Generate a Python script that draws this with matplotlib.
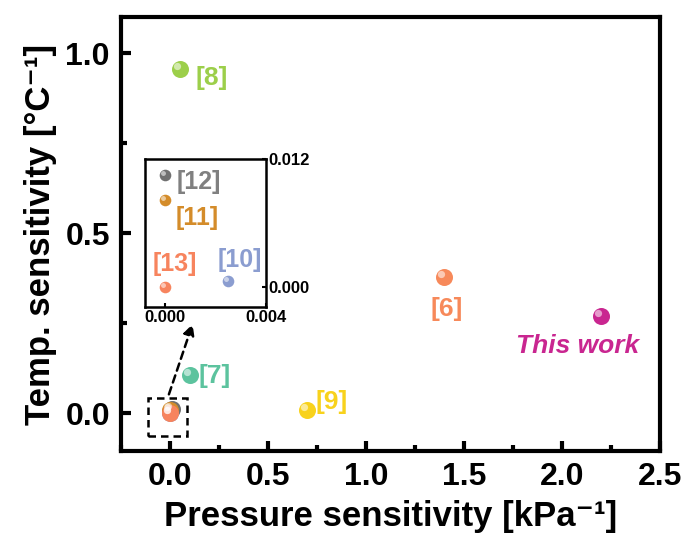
import numpy as np
import matplotlib.pyplot as plt
import matplotlib.transforms as mt
from matplotlib.patches import Rectangle
from matplotlib.ticker import MultipleLocator

plt.rcParams['font.family'] = ['Liberation Sans', 'DejaVu Sans']
plt.rcParams['font.weight'] = 'bold'

# main chart data
refs = ['[8]', '[7]', '[9]', '[6]', 'This work']
press = [0.05, 0.10, 0.70, 1.40, 2.20]
temp = [0.955, 0.105, 0.01, 0.378, 0.27]
colors = ['#9ccf4a', '#5cc39e', '#f8d21c', '#f7895a', '#c92690']
label_xy = [(0.13, 0.93), (0.145, 0.103), (0.745, 0.03), (1.41, 0.29), (2.08, 0.186)]
label_ha = ['left', 'left', 'left', 'center', 'center']

# inset data (near zero)
in_refs = ['[12]', '[11]', '[13]', '[10]']
in_press = [0.0, 0.0, 0.0, 0.0025]
in_temp = [0.0105, 0.0081, 0.0, 0.0005]
in_colors = ['#707070', '#d48c2a', '#f7845e', '#8b9dd0']
in_label_colors = ['#808080', '#d48c2a', '#f7845e', '#8b9dd0']
in_label_xy = [(0.00045, 0.0098), (0.0004, 0.0065), (-0.0005, 0.0021), (0.0021, 0.0025)]


def sphere(ax, x, y, c, s, z=3):
    ax.scatter(x, y, s=s, color=c, zorder=z, linewidths=0)
    # highlight
    off = np.sqrt(s) * 0.18
    hl = ax.scatter(x, y, s=s * 0.18, color='white', alpha=0.55, zorder=z + 0.1, linewidths=0)
    hl.set_offset_transform(ax.transData + mt.ScaledTranslation(-off / 72, off / 72, ax.figure.dpi_scale_trans))


fig = plt.figure(figsize=(6.89, 5.5), dpi=100)
ax = fig.add_axes([0.1756, 0.18, 0.782, 0.789])

# near-zero points at main scale
for i in [0, 3, 1, 2]:
    sphere(ax, in_press[i] + (0.008 if i == 0 else 0), in_temp[i], in_colors[i], 150)
for i in range(len(refs)):
    sphere(ax, press[i], temp[i], colors[i], 150)
    ax.text(label_xy[i][0], label_xy[i][1], refs[i], color=colors[i], fontsize=19,
            ha=label_ha[i], va='center', fontweight='bold',
            style='italic' if refs[i] == 'This work' else 'normal')

ax.set_xlim(-0.25, 2.5)
ax.set_ylim(-0.105, 1.1)
ax.xaxis.set_major_locator(MultipleLocator(0.5))
ax.xaxis.set_minor_locator(MultipleLocator(0.25))
ax.yaxis.set_major_locator(MultipleLocator(0.5))
ax.yaxis.set_minor_locator(MultipleLocator(0.25))
ax.tick_params(which='major', direction='in', length=7, width=3, labelsize=23, pad=8)
ax.tick_params(which='minor', direction='in', length=4, width=3)
for sp in ax.spines.values():
    sp.set_linewidth(3)
ax.set_xlabel('Pressure sensitivity [kPa\u207b\u00b9]', fontsize=25, fontweight='bold', labelpad=6)
ax.set_ylabel('Temp. sensitivity [°C\u207b\u00b9]', fontsize=25, fontweight='bold', labelpad=6)

ax.add_patch(Rectangle((-0.112, -0.064), 0.199, 0.106, fill=False, ls=(0, (3, 2)), lw=1.8, color='black', zorder=4))
ax.annotate('', xy=(0.12, 0.255), xytext=(-0.01, 0.045),
            arrowprops=dict(arrowstyle='-|>', ls=(0, (3, 2)), lw=1.8, color='black', mutation_scale=16))

# inset
axi = fig.add_axes([0.2105, 0.4418, 0.1755, 0.2692])
for i in range(len(in_refs)):
    sphere(axi, in_press[i], in_temp[i], in_colors[i], 70)
    axi.text(in_label_xy[i][0], in_label_xy[i][1], in_refs[i], color=in_label_colors[i],
             fontsize=18, ha='left', va='center', fontweight='bold')
axi.set_xlim(-0.0008, 0.004)
axi.set_ylim(-0.0019, 0.012)
axi.set_xticks([0.0, 0.004])
axi.set_xticklabels(['0.000', '0.004'])
axi.set_yticks([0.0, 0.012])
axi.set_yticklabels(['0.000', '0.012'])
axi.yaxis.tick_right()
axi.tick_params(direction='in', length=3, width=1.5, labelsize=12, pad=2)
for sp in axi.spines.values():
    sp.set_linewidth(1.8)

fig.savefig('out.png', dpi=100)
